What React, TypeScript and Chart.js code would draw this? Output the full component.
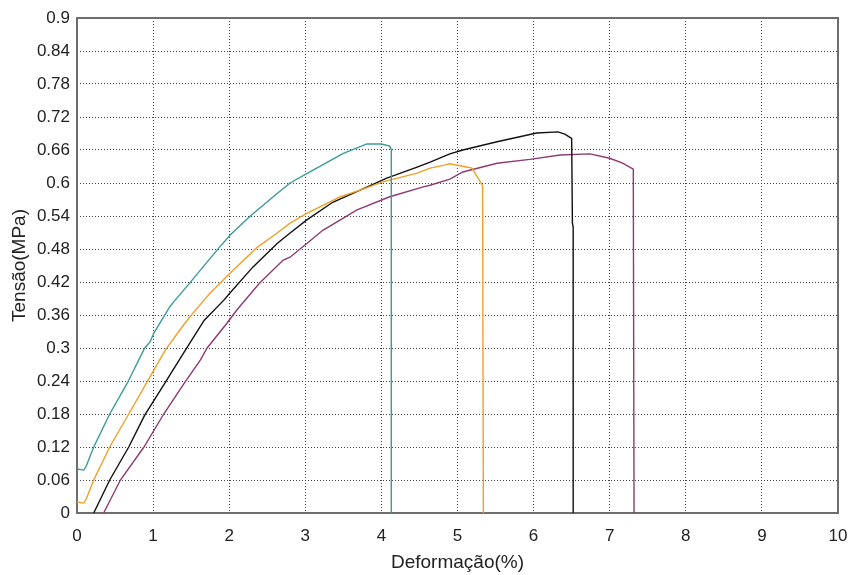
import React, { useEffect, useRef } from "react";
import { Chart, registerables } from "chart.js";

Chart.register(...registerables);

const xTicks = [0, 1, 2, 3, 4, 5, 6, 7, 8, 9, 10];
const yTicks = [0, 0.06, 0.12, 0.18, 0.24, 0.3, 0.36, 0.42, 0.48, 0.54, 0.6, 0.66, 0.72, 0.78, 0.84, 0.9];

const tealX = [0, 0.09, 0.12, 0.22, 0.43, 0.66, 0.89, 0.96, 1.01, 1.22, 1.29, 1.48, 1.84, 2.01, 2.27, 2.63, 2.8, 3.02, 3.15, 3.5, 3.81, 4.0, 4.11, 4.13, 4.13];
const tealY = [0.08, 0.078, 0.085, 0.12, 0.18, 0.236, 0.3, 0.311, 0.327, 0.375, 0.387, 0.418, 0.478, 0.505, 0.539, 0.581, 0.6, 0.617, 0.627, 0.654, 0.671, 0.671, 0.667, 0.66, 0];

const orangeX = [0, 0.09, 0.12, 0.22, 0.43, 0.68, 0.92, 1.16, 1.39, 1.48, 1.67, 1.75, 2.01, 2.36, 2.63, 2.8, 3.02, 3.46, 3.72, 4.02, 4.47, 4.64, 4.84, 4.9, 5.12, 5.19, 5.33, 5.34];
const orangeY = [0.02, 0.018, 0.025, 0.06, 0.12, 0.18, 0.238, 0.296, 0.34, 0.356, 0.387, 0.4, 0.436, 0.482, 0.509, 0.527, 0.545, 0.575, 0.587, 0.602, 0.618, 0.627, 0.633, 0.635, 0.629, 0.627, 0.595, 0];

const blackX = [0.22, 0.43, 0.68, 0.89, 1.14, 1.41, 1.67, 1.93, 2.01, 2.31, 2.63, 2.8, 3.02, 3.36, 3.72, 4.07, 4.47, 4.64, 4.9, 5.07, 5.52, 6.04, 6.32, 6.41, 6.5, 6.51, 6.52, 6.52];
const blackY = [0, 0.06, 0.12, 0.178, 0.233, 0.293, 0.35, 0.387, 0.4, 0.447, 0.49, 0.509, 0.533, 0.565, 0.587, 0.609, 0.629, 0.638, 0.653, 0.66, 0.675, 0.691, 0.693, 0.689, 0.681, 0.527, 0.52, 0];

const magentaX = [0.35, 0.57, 0.88, 1.14, 1.41, 1.62, 1.71, 1.97, 2.1, 2.4, 2.71, 2.8, 3.02, 3.23, 3.68, 4.11, 4.55, 4.64, 4.9, 5.07, 5.52, 5.95, 6.35, 6.74, 7.0, 7.17, 7.31, 7.32];
const magentaY = [0, 0.06, 0.12, 0.18, 0.236, 0.278, 0.3, 0.345, 0.369, 0.418, 0.46, 0.465, 0.49, 0.514, 0.551, 0.575, 0.593, 0.596, 0.607, 0.62, 0.636, 0.643, 0.651, 0.653, 0.645, 0.636, 0.625, 0];

const pts = (xs: number[], ys: number[]) => xs.map((x, i) => ({ x, y: ys[i] }));

const FONT = "'Liberation Sans', Arial, sans-serif";

const boxPlugin = {
  id: "box",
  beforeDatasetsDraw(chart: any) {
    const { ctx, chartArea } = chart;
    ctx.save();
    ctx.strokeStyle = "#6e6e6e";
    ctx.lineWidth = 2;
    ctx.strokeRect(chartArea.left, chartArea.top, chartArea.right - chartArea.left, chartArea.bottom - chartArea.top);
    ctx.restore();
  },
};

export default function App() {
  const ref = useRef<HTMLCanvasElement | null>(null);
  useEffect(() => {
    if (!ref.current) return;
    const mk = (data: any, color: string) => ({
      data,
      borderColor: color,
      backgroundColor: color,
      borderWidth: 1.4,
      pointRadius: 0,
      showLine: true,
      fill: false,
      tension: 0,
    });
    const chart = new Chart(ref.current, {
      type: "scatter",
      data: {
        datasets: [
          mk(pts(tealX, tealY), "#3a9a9c"),
          mk(pts(orangeX, orangeY), "#f0a028"),
          mk(pts(blackX, blackY), "#111111"),
          mk(pts(magentaX, magentaY), "#8e3a72"),
        ],
      },
      options: {
        animation: false,
        responsive: true,
        maintainAspectRatio: false,
        layout: { padding: { top: 18, right: 17, bottom: 0, left: 0 } },
        plugins: { legend: { display: false }, tooltip: { enabled: false } },
        scales: {
          x: {
            type: "linear",
            min: 0,
            max: 10,
            afterFit: (s: any) => { s.height = 62; s.paddingLeft = 0; s.paddingRight = 0; },
            afterBuildTicks: (s: any) => { s.ticks = xTicks.map((v) => ({ value: v })); },
            grid: { color: "#444", drawTicks: false, lineWidth: 1 },
            border: { display: false, dash: [1, 2] },
            ticks: { padding: 13, color: "#222", font: { family: FONT, size: 17 }, maxRotation: 0, callback: (v: any) => String(v) },
            title: { display: true, text: "Deformação(%)", color: "#222", font: { family: FONT, size: 19 }, padding: { top: 0, bottom: 1 } },
          },
          y: {
            type: "linear",
            min: 0,
            max: 0.9,
            afterFit: (s: any) => { s.width = 77; s.paddingTop = 0; s.paddingBottom = 0; },
            afterBuildTicks: (s: any) => { s.ticks = yTicks.map((v) => ({ value: v })); },
            grid: { color: "#444", drawTicks: false, lineWidth: 1 },
            border: { display: false, dash: [1, 2] },
            ticks: { padding: 7, color: "#222", font: { family: FONT, size: 17 }, callback: (v: any) => String(parseFloat(Number(v).toFixed(2))) },
            title: { display: true, text: "Tensão(MPa)", color: "#222", font: { family: FONT, size: 19 }, padding: { top: 8, bottom: 0 } },
          },
        },
      } as any,
      plugins: [boxPlugin],
    });
    return () => chart.destroy();
  }, []);
  return (
    <div style={{ position: "absolute", left: 0, top: 0, width: 855, height: 575, background: "#fff" }}>
      <canvas ref={ref} />
    </div>
  );
}
